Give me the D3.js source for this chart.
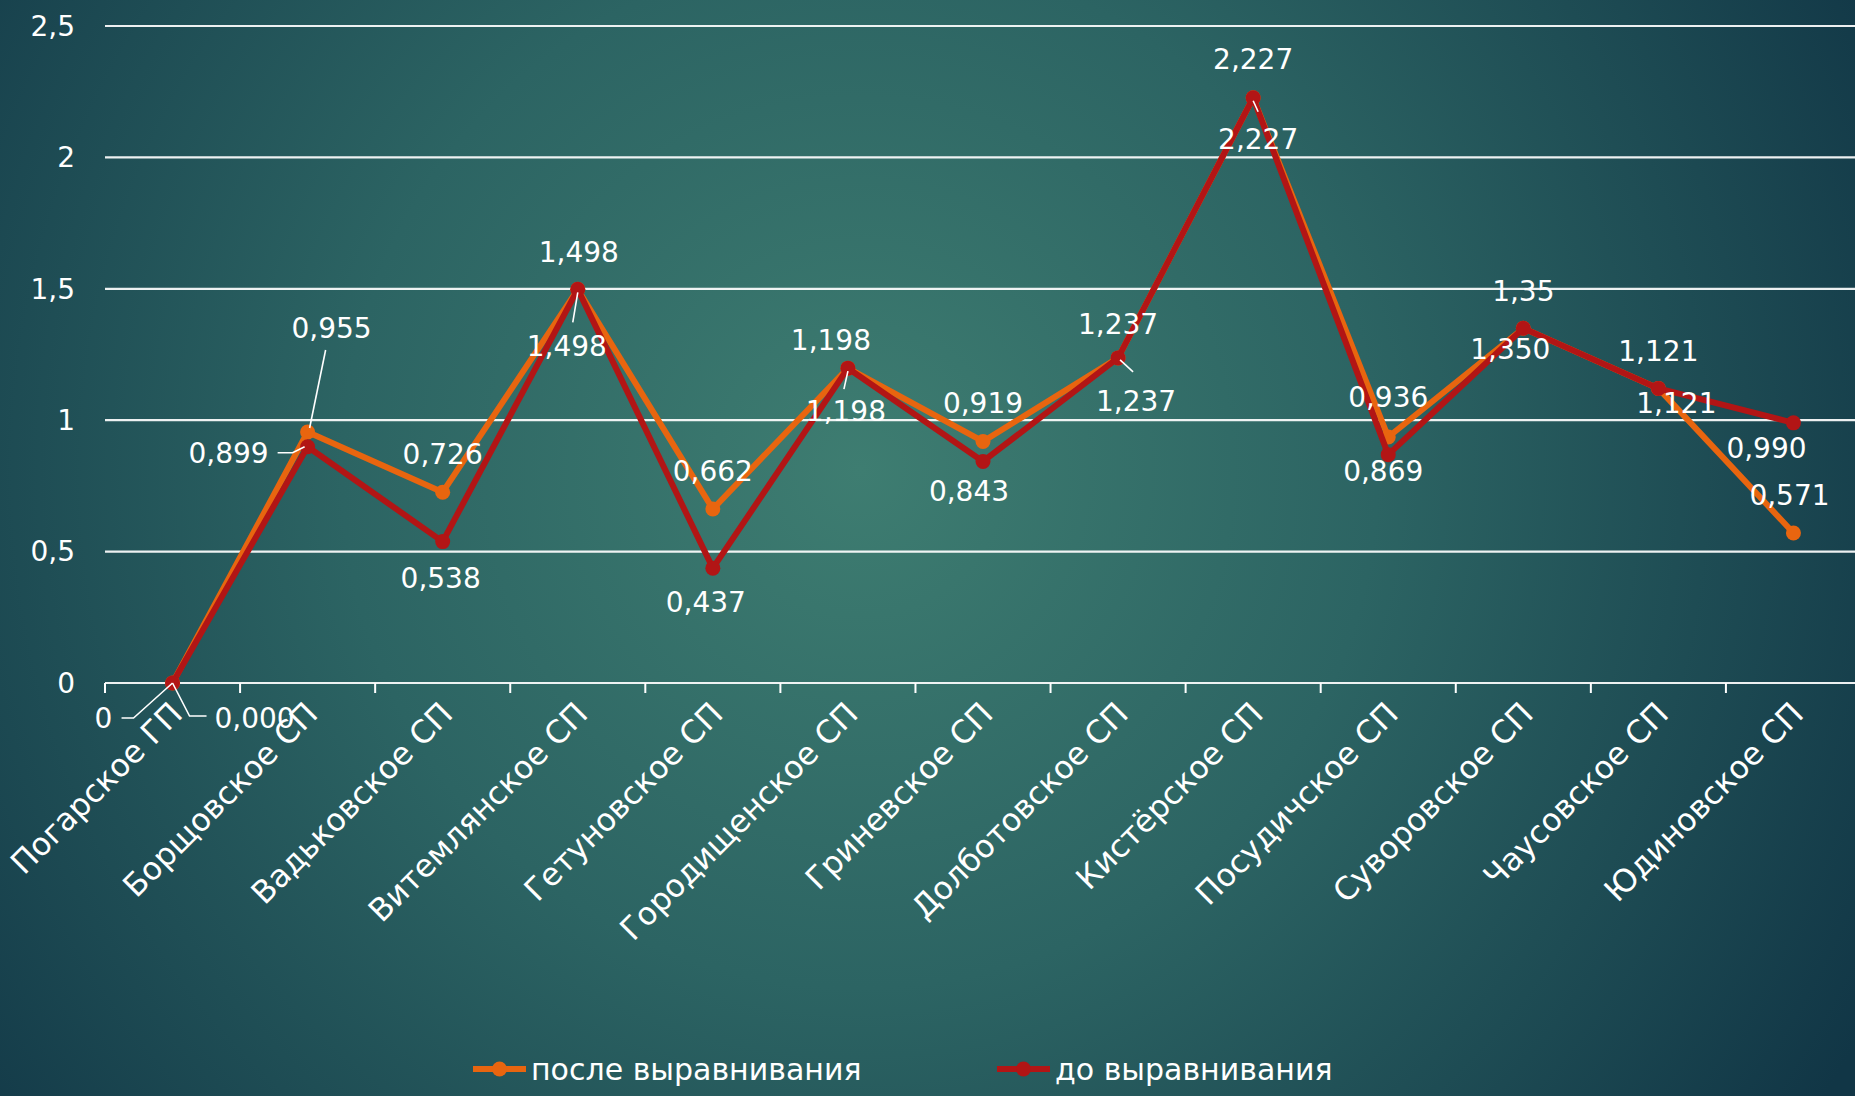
<!DOCTYPE html>
<html><head><meta charset="utf-8">
<script src="https://cdn.jsdelivr.net/npm/d3@7"></script>
<style>
html,body{margin:0;padding:0;overflow:hidden;}
svg{display:block;}
text{font-family:"DejaVu Sans",sans-serif;fill:#fff;}
</style></head>
<body>
<script>
const categories = ["Погарское ГП","Борщовское СП","Вадьковское СП","Витемлянское СП","Гетуновское СП","Городищенское СП","Гриневское СП","Долботовское СП","Кистёрское СП","Посудичское СП","Суворовское СП","Чаусовское СП","Юдиновское СП"];
const afterValues  = [0, 0.955, 0.726, 1.498, 0.662, 1.198, 0.919, 1.237, 2.227, 0.936, 1.350, 1.121, 0.571];
const beforeValues = [0, 0.899, 0.538, 1.498, 0.437, 1.198, 0.843, 1.237, 2.227, 0.869, 1.350, 1.121, 0.990];
const afterLabels  = ["0","0,955","0,726","1,498","0,662","1,198","0,919","1,237","2,227","0,936","1,35","1,121","0,571"];
const beforeLabels = ["0,000","0,899","0,538","1,498","0,437","1,198","0,843","1,237","2,227","0,869","1,350","1,121","0,990"];
const yTicks = [0, 0.5, 1, 1.5, 2, 2.5];
const yTickLabels = ["0","0,5","1","1,5","2","2,5"];
const seriesNames = ["после выравнивания","до выравнивания"];

// label placement (offsets from the point, px) and leader lines
const afterOffsets = [[-69,35],[24,-104],[0,-38],[1,-37],[0,-38],[-17,-28],[0,-38],[0,-34],[0,-39],[0,-40],[0,-37],[0,-37],[-4,-38]];
const beforeOffsets = [[82,35],[-79,6],[-2,37],[-11,57],[-7,34],[-2,43],[-14,30],[18,43],[5,41],[-5,17],[-13,21],[18,15],[-27,25]];
const afterLeaders = {0:[[-51,35],[-39,35],[0,0]], 1:[[2,-4],[18,-82]]};
const beforeLeaders = {0:[[0,0],[17,33],[34,33]], 1:[[-30,6],[-15,6],[-3,0]], 3:[[0,3],[-5,33]], 5:[[0,3],[-4,21]], 7:[[2,2],[15,14]], 8:[[0,3],[5,14]]};

const W = 1855, H = 1096;
const C_AFTER = "#e8650f", C_BEFORE = "#b21515";

const svg = d3.select("body").append("svg").attr("width", W).attr("height", H);
const defs = svg.append("defs");
const grad = defs.append("radialGradient").attr("id","bg").attr("gradientUnits","userSpaceOnUse")
  .attr("cx", 860).attr("cy", 470).attr("r", 1150);
grad.append("stop").attr("offset","0%").attr("stop-color","#3e7d71");
grad.append("stop").attr("offset","45%").attr("stop-color","#2c6463");
grad.append("stop").attr("offset","100%").attr("stop-color","#113646");
svg.append("rect").attr("width",W).attr("height",H).attr("fill","url(#bg)");

const x = d3.scaleBand().domain(categories).range([105, 1861]).padding(0);
const y = d3.scaleLinear().domain([0, 2.5]).range([683, 26]);
const cx = c => x(c) + x.bandwidth()/2;

// gridlines
svg.append("g").selectAll("line").data(yTicks).join("line")
  .attr("x1", 105).attr("x2", W).attr("y1", d=>y(d)).attr("y2", d=>y(d))
  .attr("stroke", "#fff").attr("stroke-width", 2.2).attr("opacity", 0.92);

// y tick labels
svg.append("g").selectAll("text").data(yTicks).join("text")
  .attr("x", 75).attr("y", d=>y(d)).attr("dy","0.35em").attr("text-anchor","end")
  .attr("font-size", 28).text((d,i)=>yTickLabels[i]);

// x axis tick marks
const bounds = categories.map(c=>x(c)).concat([x.range()[1]]);
svg.append("g").selectAll("line").data(bounds).join("line")
  .attr("x1", d=>d).attr("x2", d=>d).attr("y1", y(0)).attr("y2", y(0)+10)
  .attr("stroke","#fff").attr("stroke-width",2);

// category labels
svg.append("g").selectAll("text").data(categories).join("text")
  .attr("transform", c=>`translate(${cx(c)+4},${y(0)+25}) rotate(-45)`)
  .attr("text-anchor","end").attr("dy","0.35em").attr("font-size", 31.5)
  .text(c=>c);

const line = d3.line().x((d,i)=>cx(categories[i])).y(d=>y(d));

function drawSeries(vals, color){
  const g = svg.append("g");
  g.append("path").datum(vals).attr("d", line).attr("fill","none")
    .attr("stroke", color).attr("stroke-width", 6).attr("stroke-linejoin","round");
  g.selectAll("circle").data(vals).join("circle")
    .attr("cx",(d,i)=>cx(categories[i])).attr("cy", d=>y(d)).attr("r", 7.5).attr("fill", color);
}
drawSeries(afterValues, C_AFTER);
drawSeries(beforeValues, C_BEFORE);

function drawLabels(vals, labels, offsets, leaders){
  const g = svg.append("g");
  g.selectAll("text").data(vals).join("text")
    .attr("x",(d,i)=>cx(categories[i]) + offsets[i][0])
    .attr("y",(d,i)=>y(d) + offsets[i][1])
    .attr("dy","0.35em").attr("text-anchor","middle").attr("font-size",28)
    .text((d,i)=>labels[i]);
  Object.keys(leaders).forEach(k=>{
    const i = +k, px = cx(categories[i]), py = y(vals[i]);
    g.append("path").attr("d", d3.line()(leaders[k].map(p=>[px+p[0], py+p[1]])))
      .attr("fill","none").attr("stroke","#fff").attr("stroke-width",1.6);
  });
}
drawLabels(afterValues, afterLabels, afterOffsets, afterLeaders);
drawLabels(beforeValues, beforeLabels, beforeOffsets, beforeLeaders);

// legend
const legendItems = [{name: seriesNames[0], color: C_AFTER, x: 473}, {name: seriesNames[1], color: C_BEFORE, x: 997}];
const lg = svg.append("g").selectAll("g").data(legendItems).join("g")
  .attr("transform", d=>`translate(${d.x},1069)`);
lg.append("line").attr("x1",0).attr("x2",53).attr("y1",0).attr("y2",0)
  .attr("stroke", d=>d.color).attr("stroke-width",6);
lg.append("circle").attr("cx",26.5).attr("cy",0).attr("r",7.5).attr("fill",d=>d.color);
lg.append("text").attr("x",58).attr("y",0).attr("dy","0.35em").attr("font-size",30).text(d=>d.name);
</script>
</body></html>
